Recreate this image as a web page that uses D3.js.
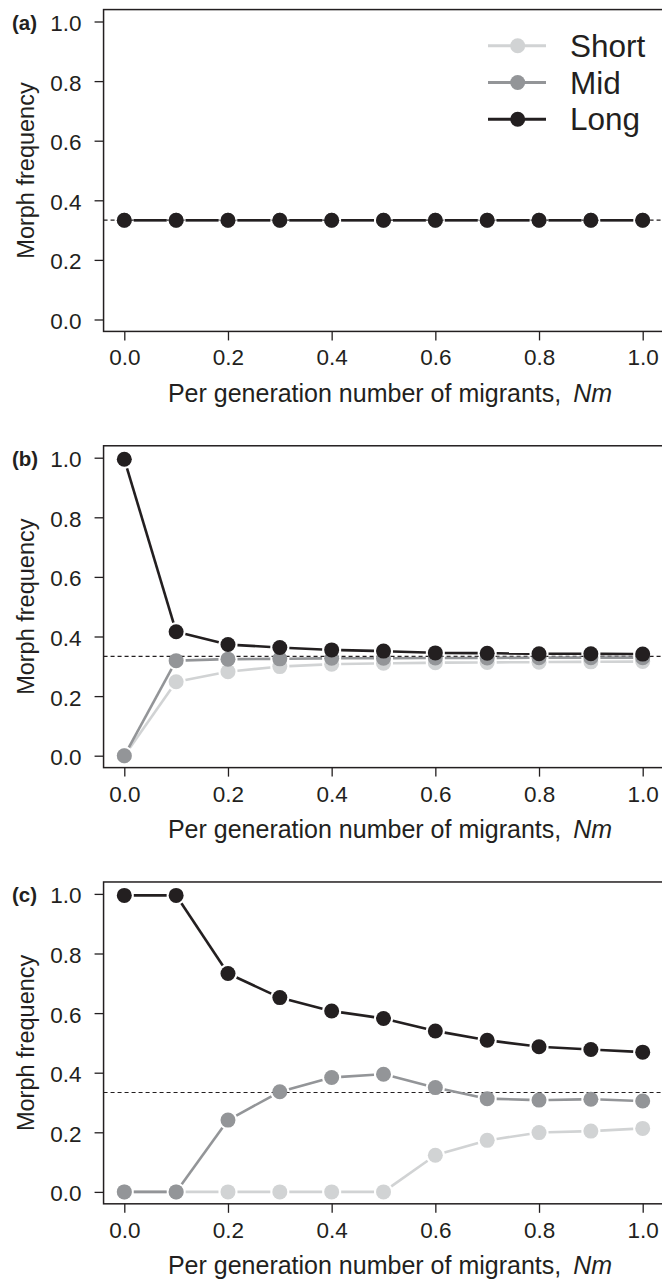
<!DOCTYPE html>
<html>
<head>
<meta charset="utf-8">
<script src="https://cdn.jsdelivr.net/npm/d3@7"></script>
<style>
  body { margin: 0; background: #fff; }
  svg { display: block; font-family: "Liberation Sans", Arial, Helvetica, sans-serif; }
  .tick text { font-size: 22.5px; fill: #231f20; }
  .tick line { stroke: #231f20; stroke-width: 1.3; }
</style>
</head>
<body>
<svg id="chart" width="662" height="1283"></svg>
<script>
'use strict';

// x values: per generation number of migrants
const nm = [0, 0.1, 0.2, 0.3, 0.4, 0.5, 0.6, 0.7, 0.8, 0.9, 1.0];

const seriesNames = ['Short', 'Mid', 'Long'];
const seriesColors = ['#d1d3d4', '#939598', '#231f20'];

// panel (a)
const shortA = [0.333, 0.333, 0.333, 0.333, 0.333, 0.333, 0.333, 0.333, 0.333, 0.333, 0.333];
const midA   = [0.333, 0.333, 0.333, 0.333, 0.333, 0.333, 0.333, 0.333, 0.333, 0.333, 0.333];
const longA  = [0.333, 0.333, 0.333, 0.333, 0.333, 0.333, 0.333, 0.333, 0.333, 0.333, 0.333];

// panel (b)
const shortB = [0, 0.248, 0.282, 0.299, 0.307, 0.310, 0.312, 0.313, 0.314, 0.315, 0.316];
const midB   = [0, 0.319, 0.324, 0.325, 0.327, 0.327, 0.328, 0.328, 0.329, 0.329, 0.329];
const longB  = [0.995, 0.416, 0.373, 0.363, 0.355, 0.351, 0.345, 0.344, 0.342, 0.342, 0.341];

// panel (c)
const shortC = [0, 0, 0, 0, 0, 0, 0.123, 0.173, 0.199, 0.204, 0.213];
const midC   = [0, 0, 0.241, 0.336, 0.384, 0.395, 0.350, 0.313, 0.308, 0.311, 0.305];
const longC  = [0.995, 0.995, 0.733, 0.652, 0.607, 0.582, 0.540, 0.509, 0.487, 0.478, 0.469];

const panelLabels = ['(a)', '(b)', '(c)'];
const panelData = [[shortA, midA, longA], [shortB, midB, longB], [shortC, midC, longC]];

const yTicks = [0, 0.2, 0.4, 0.6, 0.8, 1.0];
const xTicks = [0, 0.2, 0.4, 0.6, 0.8, 1.0];
const refLine = 1 / 3;

const R = 7.5;       // marker radius
const GAP = R + 2;   // type="b" style gap around points
const PANEL_STEP = 436.2;
const Y_SPAN = 298;

const svg = d3.select('#chart');
const fmt = d3.format('.1f');

const x = d3.scaleLinear().domain([0, 1]).range([124.3, 642.7]);

panelData.forEach(function(series, i) {
  const base = 319.5 + PANEL_STEP * i;
  const y = d3.scaleLinear().domain([0, 1]).range([base, base - Y_SPAN]);
  const g = svg.append('g');

  const left = x(-0.04), right = x(1.04), top = y(1.04), bottom = y(-0.04);

  // reference line at 1/3
  g.append('line')
    .attr('x1', left).attr('x2', right)
    .attr('y1', y(refLine)).attr('y2', y(refLine))
    .attr('stroke', '#231f20').attr('stroke-width', 1.1)
    .attr('stroke-dasharray', '4,3');

  // series, Long on top
  series.forEach(function(vals, s) {
    const pts = nm.map((v, k) => [x(v), y(vals[k])]);
    g.append('g').selectAll('line')
      .data(d3.pairs(pts))
      .join('line')
        .each(function(p) {
          const dx = p[1][0] - p[0][0], dy = p[1][1] - p[0][1];
          const len = Math.sqrt(dx * dx + dy * dy);
          const el = d3.select(this);
          if (len <= 2 * GAP) { el.remove(); return; }
          const ux = dx / len, uy = dy / len;
          el.attr('x1', p[0][0] + ux * GAP).attr('y1', p[0][1] + uy * GAP)
            .attr('x2', p[1][0] - ux * GAP).attr('y2', p[1][1] - uy * GAP);
        })
        .attr('stroke', seriesColors[s])
        .attr('stroke-width', 2.6);
    g.append('g').selectAll('circle')
      .data(pts)
      .join('circle')
        .attr('cx', d => d[0]).attr('cy', d => d[1])
        .attr('r', R)
        .attr('fill', seriesColors[s]);
  });

  // box
  g.append('rect')
    .attr('x', left).attr('y', top)
    .attr('width', right - left).attr('height', bottom - top)
    .attr('fill', 'none').attr('stroke', '#231f20').attr('stroke-width', 1.5);

  // axes
  g.append('g')
    .attr('transform', 'translate(' + left + ',0)')
    .call(d3.axisLeft(y).tickValues(yTicks).tickFormat(fmt).tickSize(9).tickPadding(13).tickSizeOuter(0))
    .call(a => a.select('.domain').remove())
    .call(a => a.selectAll('text').attr('dy', '0.4em'));

  g.append('g')
    .attr('transform', 'translate(0,' + bottom + ')')
    .call(d3.axisBottom(x).tickValues(xTicks).tickFormat(fmt).tickSize(9).tickPadding(9).tickSizeOuter(0))
    .call(a => a.select('.domain').remove());

  // titles
  g.append('text')
    .attr('transform', 'translate(34,' + (base - Y_SPAN / 2) + ') rotate(-90)')
    .attr('text-anchor', 'middle')
    .attr('font-size', 23.5).attr('fill', '#231f20')
    .text('Morph frequency');

  const xt = g.append('text')
    .attr('x', 390).attr('y', base + 82)
    .attr('text-anchor', 'middle')
    .attr('font-size', 25).attr('fill', '#231f20');
  xt.append('tspan').text('Per generation number of migrants,');
  xt.append('tspan').attr('dx', 12).attr('font-style', 'italic').text('Nm');

  g.append('text')
    .attr('x', 12).attr('y', y(1) + 8)
    .attr('font-size', 20.5).attr('font-weight', 'bold').attr('fill', '#231f20')
    .text(panelLabels[i]);

  // legend in panel (a)
  if (i === 0) {
    const leg = g.append('g').selectAll('g')
      .data(seriesNames)
      .join('g')
        .attr('transform', (d, k) => 'translate(0,' + (45.7 + 36.8 * k) + ')');
    leg.append('line')
      .attr('x1', 488).attr('x2', 546)
      .attr('stroke', (d, k) => seriesColors[k]).attr('stroke-width', 3);
    leg.append('circle')
      .attr('cx', 517.7).attr('r', R)
      .attr('fill', (d, k) => seriesColors[k]);
    leg.append('text')
      .attr('x', 570).attr('y', 11)
      .attr('font-size', 31.5).attr('fill', '#231f20')
      .text(d => d);
  }
});
</script>
</body>
</html>
